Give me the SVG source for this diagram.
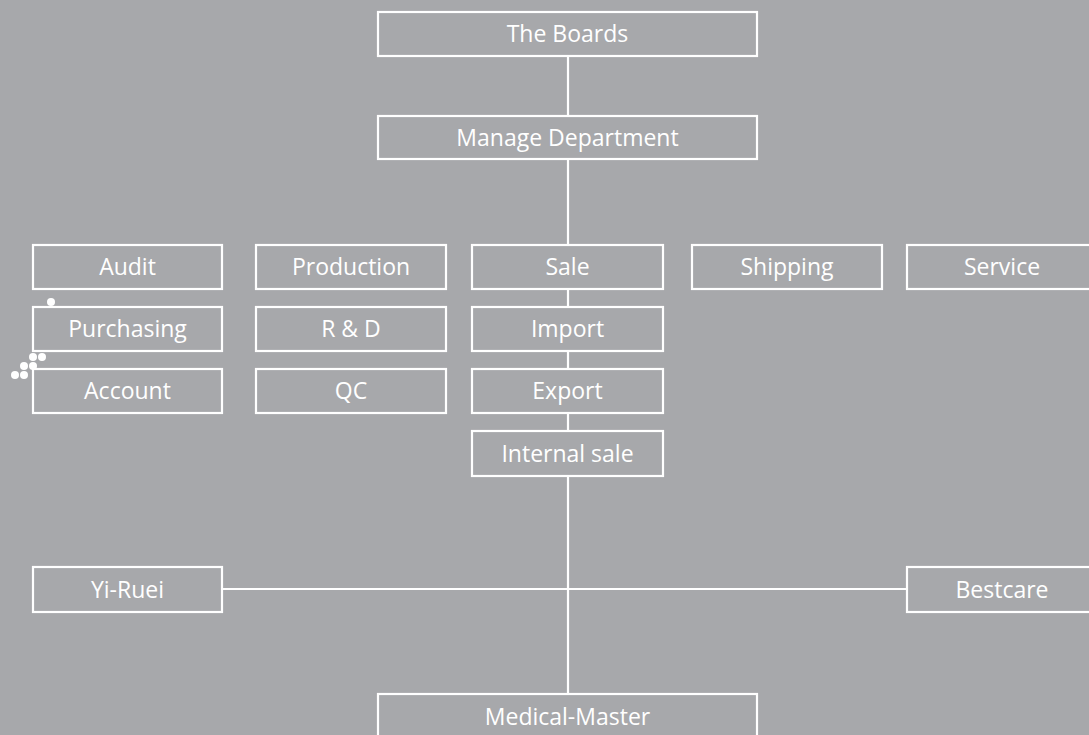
<svg xmlns="http://www.w3.org/2000/svg" width="1089" height="735" viewBox="0 0 1089 735">
<style>
.n rect{fill:none;stroke:#fff;stroke-width:2.2}
.n text{fill:#fff;font-family:"Open Sans","Noto Sans","Liberation Sans",sans-serif;font-size:23px;text-anchor:middle}
.c line{stroke:#fff;stroke-width:2.2}
.d circle{fill:#fff}
</style>
<rect width="1089" height="735" fill="#a7a8ab"/>
<g class="c" id="connectors">
<line x1="568" y1="56" x2="568" y2="116"/>
<line x1="568" y1="159" x2="568" y2="245"/>
<line x1="568" y1="289" x2="568" y2="307"/>
<line x1="568" y1="351" x2="568" y2="369"/>
<line x1="568" y1="413" x2="568" y2="431"/>
<line x1="568" y1="476" x2="568" y2="694"/>
<line x1="222" y1="589" x2="907" y2="589"/>
</g>
<g class="n" id="the-boards"><rect x="378" y="12" width="379" height="44"/><text x="567.5" y="42">The Boards</text></g>
<g class="n" id="manage-department"><rect x="378" y="116" width="379" height="43"/><text x="567.5" y="146">Manage Department</text></g>
<g class="n" id="audit"><rect x="33" y="245" width="189" height="44"/><text x="127.5" y="275">Audit</text></g>
<g class="n" id="production"><rect x="256" y="245" width="190" height="44"/><text x="351" y="275">Production</text></g>
<g class="n" id="sale"><rect x="472" y="245" width="191" height="44"/><text x="567.5" y="275">Sale</text></g>
<g class="n" id="shipping"><rect x="692" y="245" width="190" height="44"/><text x="787" y="275">Shipping</text></g>
<g class="n" id="service"><rect x="907" y="245" width="190" height="44"/><text x="1002" y="275">Service</text></g>
<g class="n" id="purchasing"><rect x="33" y="307" width="189" height="44"/><text x="127.5" y="337">Purchasing</text></g>
<g class="n" id="rd"><rect x="256" y="307" width="190" height="44"/><text x="351" y="337">R &amp; D</text></g>
<g class="n" id="import"><rect x="472" y="307" width="191" height="44"/><text x="567.5" y="337">Import</text></g>
<g class="n" id="account"><rect x="33" y="369" width="189" height="44"/><text x="127.5" y="399">Account</text></g>
<g class="n" id="qc"><rect x="256" y="369" width="190" height="44"/><text x="351" y="399">QC</text></g>
<g class="n" id="export"><rect x="472" y="369" width="191" height="44"/><text x="567.5" y="399">Export</text></g>
<g class="n" id="internal-sale"><rect x="472" y="431" width="191" height="45"/><text x="567.5" y="462">Internal sale</text></g>
<g class="n" id="yi-ruei"><rect x="33" y="567" width="189" height="45"/><text x="127.5" y="598">Yi-Ruei</text></g>
<g class="n" id="bestcare"><rect x="907" y="567" width="190" height="45"/><text x="1002" y="598">Bestcare</text></g>
<g class="n" id="medical-master"><rect x="378" y="694" width="379" height="45"/><text x="567.5" y="725">Medical-Master</text></g>
<g class="d" id="dots">
<circle cx="51" cy="302" r="4"/>
<circle cx="33" cy="357" r="4"/><circle cx="42" cy="357" r="4"/>
<circle cx="24" cy="366" r="4"/><circle cx="33" cy="366" r="4"/>
<circle cx="15" cy="375" r="4"/><circle cx="24" cy="375" r="4"/>
</g>
</svg>
